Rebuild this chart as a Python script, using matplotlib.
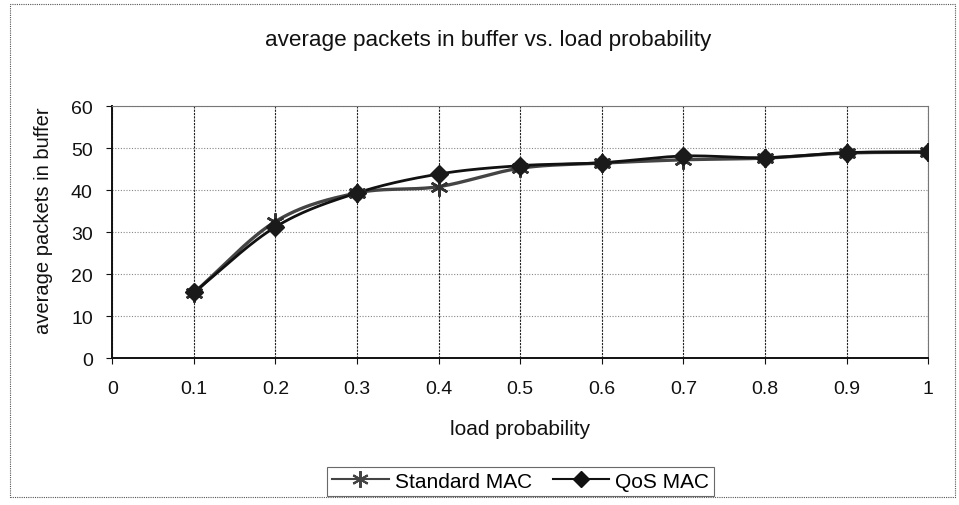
import numpy as np
import matplotlib
matplotlib.use("Agg")
import matplotlib.pyplot as plt
from matplotlib.patches import Rectangle

plt.rcParams['font.family'] = ['Liberation Sans', 'DejaVu Sans']

load = [0.1, 0.2, 0.3, 0.4, 0.5, 0.6, 0.7, 0.8, 0.9, 1.0]
standard_mac = [15.5, 32.5, 39.3, 40.8, 45.2, 46.4, 47.2, 47.6, 48.8, 49.0]
qos_mac = [15.6, 31.2, 39.3, 43.8, 45.8, 46.5, 48.1, 47.7, 48.9, 49.1]
x_ticks = [0, 0.1, 0.2, 0.3, 0.4, 0.5, 0.6, 0.7, 0.8, 0.9, 1]
y_ticks = [0, 10, 20, 30, 40, 50, 60]


def smooth(xs, ys, n=30):
    """Catmull-Rom curve through the points, like a spreadsheet's smoothed line."""
    xs = np.asarray(xs, float)
    ys = np.asarray(ys, float)
    px = np.concatenate([[2 * xs[0] - xs[1]], xs, [2 * xs[-1] - xs[-2]]])
    py = np.concatenate([[2 * ys[0] - ys[1]], ys, [2 * ys[-1] - ys[-2]]])
    out_x, out_y = [], []
    t = np.linspace(0, 1, n, endpoint=False)
    for i in range(1, len(px) - 2):
        for p, out in ((px, out_x), (py, out_y)):
            p0, p1, p2, p3 = p[i - 1], p[i], p[i + 1], p[i + 2]
            out.extend(0.5 * ((2 * p1) + (-p0 + p2) * t
                              + (2 * p0 - 5 * p1 + 4 * p2 - p3) * t ** 2
                              + (-p0 + 3 * p1 - 3 * p2 + p3) * t ** 3))
    out_x.append(xs[-1])
    out_y.append(ys[-1])
    return np.array(out_x), np.array(out_y)


fig = plt.figure(figsize=(9.59, 5.06), dpi=100)
ax = fig.add_axes([0.117, 0.2905, 0.851, 0.498])

# outer chart frame
fig.patches.append(Rectangle((0.010, 0.015), 0.986, 0.975, transform=fig.transFigure,
                             fill=False, edgecolor='#555555', linewidth=0.8,
                             linestyle=(0, (1, 1))))

star = (6, 2, 0)
sx, sy = smooth(load, standard_mac)
qx, qy = smooth(load, qos_mac)
ax.plot(sx, sy, color='#444444', linewidth=2.4, zorder=3)
ax.plot(load, standard_mac, linestyle='none', marker=star, markersize=13,
        markeredgewidth=1.8, color='#333333', zorder=4)
ax.plot(qx, qy, color='#111111', linewidth=2.0, zorder=3)
ax.plot(load, qos_mac, linestyle='none', marker='D', markersize=9,
        color='#1a1a1a', zorder=5)

ax.set_xlim(0, 1)
ax.set_ylim(0, 60)
ax.set_xticks(x_ticks)
ax.set_xticklabels([f'{v:g}' for v in x_ticks])
ax.set_yticks(y_ticks)

ax.grid(axis='x', color='#222222', linestyle=(0, (2, 1)), linewidth=0.8)
ax.grid(axis='y', color='#888888', linestyle=(0, (1, 1.5)), linewidth=0.8)
ax.set_axisbelow(True)

for side in ('top', 'right'):
    ax.spines[side].set_color('#777777')
    ax.spines[side].set_linestyle((0, (1, 1)))
    ax.spines[side].set_linewidth(0.8)
for side in ('left', 'bottom'):
    ax.spines[side].set_color('#111111')
    ax.spines[side].set_linewidth(1.4)

ax.tick_params(axis='both', labelsize=14, length=4, width=0.8, colors='#111111')
ax.tick_params(axis='x', pad=12)
ax.tick_params(axis='y', pad=10)

ax.set_xlabel('load probability', fontsize=15, labelpad=16, color='#111111')
ax.set_ylabel('average packets in buffer', fontsize=14.5, labelpad=10, color='#111111')
ax.yaxis.set_label_coords(-0.073, 0.55)
fig.text(0.509, 0.92, 'average packets in buffer vs. load probability',
         ha='center', va='center', fontsize=16.2, color='#111111')

handles = [
    plt.Line2D([], [], color='#444444', linewidth=1.5, marker=star, markersize=12,
               markeredgewidth=1.5),
    plt.Line2D([], [], color='#111111', linewidth=1.5, marker='D', markersize=8),
]
leg = fig.legend(handles, ['Standard MAC', 'QoS MAC'], loc='center',
                 bbox_to_anchor=(0.543, 0.047), ncol=2, fontsize=15,
                 frameon=True, fancybox=False, handlelength=2.7,
                 handletextpad=0.3, columnspacing=1.0, borderpad=0.25)
leg.get_frame().set_edgecolor('#444444')
leg.get_frame().set_linewidth(0.8)

fig.savefig('out.png', dpi=100)
